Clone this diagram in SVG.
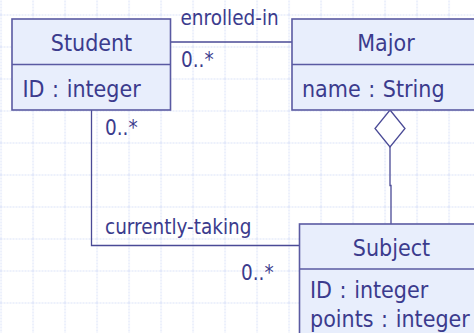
<svg xmlns="http://www.w3.org/2000/svg" width="474" height="333" viewBox="0 0 474 333">
  <defs>
    <pattern id="grid" x="0.5" y="14.5" width="32" height="32" patternUnits="userSpaceOnUse">
      <path d="M0,0.5 H32 M0.5,0 V32" fill="none" stroke="#dbe2f8" stroke-width="1.2" stroke-dasharray="2 1"/>
    </pattern>
  </defs>
  <style>
    .box { fill: #e8eefc; stroke: #5a5aa2; stroke-width: 1.6; }
    .sep { stroke: #5a5aa2; stroke-width: 1.6; fill: none; }
    .conn { stroke: #4a4a96; stroke-width: 1.3; fill: none; }
    .diamond { fill: #ffffff; stroke: #4a4a96; stroke-width: 1.3; }
    .name { font-family: "DejaVu Sans Condensed", "DejaVu Sans", sans-serif; font-size: 23px; fill: #3b3b8d; text-anchor: middle; }
    .attr { font-family: "DejaVu Sans Condensed", "DejaVu Sans", sans-serif; font-size: 23px; fill: #3b3b8d; word-spacing: 1px; }
    .label { font-family: "DejaVu Sans Condensed", "DejaVu Sans", sans-serif; font-size: 20.5px; fill: #3b3b8d; }
  </style>

  <rect x="0" y="0" width="474" height="333" fill="#ffffff"/>
  <rect x="0" y="0" width="474" height="333" fill="url(#grid)"/>

  <g id="connectors">
    <!-- Student to Major -->
    <line class="conn" x1="171" y1="42" x2="292" y2="42"/>
    <!-- Student to Subject -->
    <polyline class="conn" points="91.5,110 91.5,245.5 299.5,245.5"/>
    <!-- aggregation Major to Subject -->
    <path class="conn" d="M390,147 V185.5 H391 V224"/>
    <polygon class="diamond" points="390,110 405,128.5 390,147 375,128.5"/>
    <text class="label" x="180.5" y="25">enrolled-in</text>
    <text class="label" x="181" y="67">0..*</text>
    <text class="label" x="105" y="135">0..*</text>
    <text class="label" x="105" y="234">currently-taking</text>
    <text class="label" x="241" y="280">0..*</text>
  </g>

  <g id="student">
    <rect class="box" x="12" y="19" width="158.5" height="91"/>
    <line class="sep" x1="12" y1="64.5" x2="170.5" y2="64.5"/>
    <text class="name" x="91.5" y="51">Student</text>
    <text class="attr" x="22.5" y="97">ID : integer</text>
  </g>

  <g id="major">
    <rect class="box" x="292" y="19" width="190" height="91"/>
    <line class="sep" x1="292" y1="64.5" x2="482" y2="64.5"/>
    <text class="name" x="386" y="51">Major</text>
    <text class="attr" x="302" y="97">name : String</text>
  </g>

  <g id="subject">
    <rect class="box" x="299.5" y="224" width="184" height="120"/>
    <line class="sep" x1="299.5" y1="269" x2="483.5" y2="269"/>
    <text class="name" x="391.5" y="256">Subject</text>
    <text class="attr" x="310" y="298">ID : integer</text>
    <text class="attr" x="310" y="326.5">points : integer</text>
  </g>
</svg>
